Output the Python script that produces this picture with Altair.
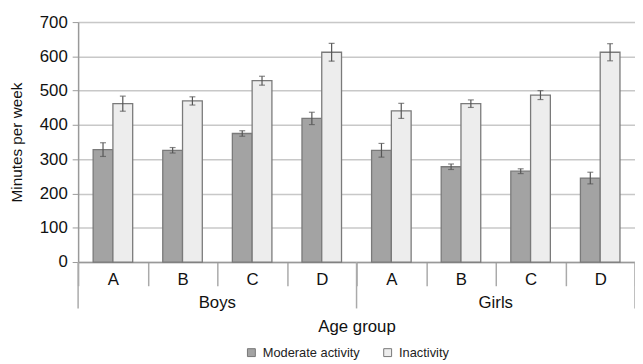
import altair as alt
import pandas as pd

# ---- data ----
genders = ["Boys", "Boys", "Boys", "Boys", "Girls", "Girls", "Girls", "Girls"]
ages = ["A", "B", "C", "D", "A", "B", "C", "D"]
moderate = [328, 326, 375, 419, 326, 278, 265, 245]
moderate_err = [20, 8, 8, 18, 20, 8, 7, 17]
inactivity = [462, 470, 529, 612, 441, 462, 487, 612]
inactivity_err = [22, 12, 13, 26, 22, 11, 13, 25]
series_names = ["Moderate activity", "Inactivity"]
gender_labels = ["Boys", "Girls"]
y_ticks = [0, 100, 200, 300, 400, 500, 600, 700]

cats = [f"{g}|{a}" for g, a in zip(genders, ages)]

rows = []
for c, m, me, i, ie in zip(cats, moderate, moderate_err, inactivity, inactivity_err):
    rows.append({"cat": c, "series": series_names[0], "value": m, "lo": m - me, "hi": m + me})
    rows.append({"cat": c, "series": series_names[1], "value": i, "lo": i - ie, "hi": i + ie})
df = pd.DataFrame(rows)

grp_df = pd.DataFrame({"cat": [f"{g}|C" for g in gender_labels], "label": gender_labels})
sep_df = pd.DataFrame({"cat": [f"{g}|A" for g in gender_labels]})
end_df = pd.DataFrame({"cat": [cats[-1]]})

FONT = "Liberation Sans"
W, H = 564, 243

xscale = alt.Scale(domain=cats, paddingInner=0, paddingOuter=0)
offscale = alt.Scale(domain=series_names, paddingInner=0, paddingOuter=0.76)
yscale = alt.Scale(domain=[0, 700], nice=False)

x_axis = alt.Axis(
    title="Age group",
    labelExpr="split(datum.label, '|')[1]",
    labelAngle=0,
    labelFontSize=17,
    labelFont=FONT,
    labelColor="#111",
    labelPadding=-14,
    tickBand="extent",
    tickSize=24,
    tickColor="#aaaaaa",
    tickWidth=1.5,
    domainColor="#999999",
    domainWidth=1.5,
    titleFontSize=17,
    titleFont=FONT,
    titleFontWeight="normal",
    titleColor="#111",
    titleBaseline="middle",
    titleY=65,
    grid=False,
)

y_axis = alt.Axis(
    title="Minutes per week",
    values=y_ticks,
    labelFontSize=17,
    labelFont=FONT,
    labelColor="#111",
    labelPadding=5,
    labelOverlap=False,
    tickSize=6,
    tickColor="#999999",
    domainColor="#999999",
    domainWidth=1.5,
    gridColor="#c8c8c8",
    gridWidth=1.5,
    titleFontSize=15.5,
    titleFont=FONT,
    titleFontWeight="normal",
    titleColor="#111",
    titleX=-62,
    titleBaseline="middle",
)

X = alt.X("cat:N", scale=xscale, axis=x_axis, sort=cats)
XO = alt.XOffset("series:N", scale=offscale, sort=series_names)

color_scale = alt.Scale(domain=series_names, range=["#a3a3a3", "#ededed"])

bars = alt.Chart(df).mark_bar(stroke="#7a7a7a", strokeWidth=1.3).encode(
    x=X,
    xOffset=XO,
    y=alt.Y("value:Q", scale=yscale, axis=y_axis),
    fill=alt.Fill(
        "series:N",
        scale=color_scale,
        sort=series_names,
        legend=alt.Legend(
            title=None,
            orient="none",
            legendX=169,
            legendY=328,
            direction="horizontal",
            symbolType="square",
            symbolSize=64,
            symbolStrokeColor="#777777",
            symbolStrokeWidth=1,
            labelFontSize=13,
            labelFont=FONT,
            labelColor="#222",
            labelOffset=5,
            columnPadding=21,
            padding=0,
        ),
    ),
)

err = alt.Chart(df).mark_rule(color="#555555", strokeWidth=1.2).encode(
    x=X,
    xOffset=XO,
    y=alt.Y("lo:Q", scale=yscale, axis=y_axis),
    y2="hi:Q",
)

cap_lo = alt.Chart(df).mark_tick(color="#555555", thickness=1.2, size=6, orient="horizontal").encode(
    x=X,
    xOffset=XO,
    y=alt.Y("lo:Q", scale=yscale, axis=y_axis),
)
cap_hi = alt.Chart(df).mark_tick(color="#555555", thickness=1.2, size=6, orient="horizontal").encode(
    x=X,
    xOffset=XO,
    y=alt.Y("hi:Q", scale=yscale, axis=y_axis),
)

grp_text = alt.Chart(grp_df).mark_text(
    font=FONT, fontSize=17, color="#111", baseline="middle", align="center"
).encode(
    x=alt.X("cat:N", scale=xscale, axis=x_axis, sort=cats, bandPosition=0),
    y=alt.value(285),
    text="label:N",
)

seps = alt.Chart(sep_df).mark_rule(color="#aaaaaa", strokeWidth=1.5).encode(
    x=alt.X("cat:N", scale=xscale, axis=x_axis, sort=cats, bandPosition=0),
    y=alt.value(H),
    y2=alt.value(H + 47),
)
end_sep = alt.Chart(end_df).mark_rule(color="#aaaaaa", strokeWidth=1.5).encode(
    x=alt.X("cat:N", scale=xscale, axis=x_axis, sort=cats, bandPosition=1),
    y=alt.value(H),
    y2=alt.value(H + 47),
)

chart = alt.layer(bars, err, cap_lo, cap_hi, grp_text, seps, end_sep).properties(
    width=W,
    height=H,
    autosize=alt.AutoSizeParams(type="none"),
    padding={"left": 71, "top": 12, "right": 0, "bottom": 101},
).configure_view(stroke=None).configure(background="white")

chart.save("out.html", embed_options={"renderer": "svg", "actions": False})
